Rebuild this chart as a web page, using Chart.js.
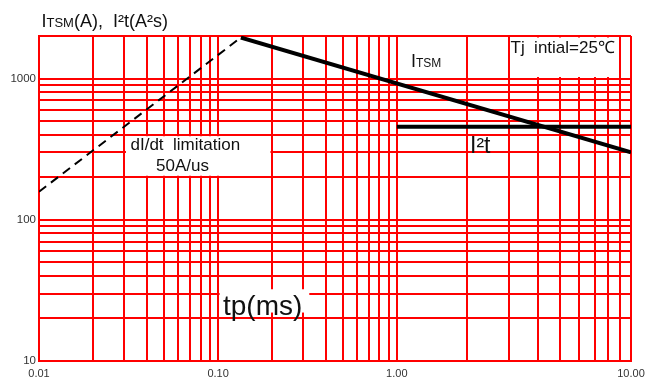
<!DOCTYPE html>
<html>
<head>
<meta charset="utf-8">
<script src="https://cdn.jsdelivr.net/npm/chart.js@4.4.1/dist/chart.umd.min.js"></script>
<style>
  html, body { margin: 0; padding: 0; background: #fff; }
  #wrap { width: 646px; height: 381px; }
</style>
</head>
<body>
<div id="wrap"><canvas id="chart" width="646" height="381"></canvas></div>
<script>
// values, tp in ms
const dIdtTp = [0.01, 0.134];
const dIdtValue = [158, 1950];
const itsmTp = [0.134, 10];
const itsmValue = [1950, 300];
const i2tTp = [1, 10];
const i2tValue = [455, 455];

const xTickValues = [0.01, 0.1, 1, 10];
const xTickLabels = ['0.01', '0.10', '1.00', '10.00'];
const yTickValues = [10, 100, 1000];
const yTickLabels = ['10', '100', '1000'];

// the datasheet draws its last decade wider than the first two
const xDecadeWidths = [179, 178.5, 234];

const FONT = '"Liberation Sans", Arial, sans-serif';
const RED = '#ff0000';

function logGrid(from, to) {
  const out = [];
  for (let d = from; d < to * 0.999; d *= 10) {
    for (let m = 1; m < 10; m++) out.push(+(m * d).toPrecision(6));
  }
  out.push(to);
  return out;
}
const xGrid = logGrid(0.01, 10);
const yGrid = logGrid(10, 1000).concat([2000]);

function labelFor(values, labels, v) {
  const i = values.findIndex(t => Math.abs(t - v) / t < 1e-6);
  return i < 0 ? '' : labels[i];
}

// log scale with per-decade widths
class DatasheetLogScale extends Chart.LogarithmicScale {
  static id = 'datasheetlog';
  _decimal(value) {
    const total = xDecadeWidths.reduce((a, b) => a + b, 0);
    const l = Math.log10(value) - Math.log10(this.min);
    const d = Math.min(Math.max(Math.floor(l), 0), xDecadeWidths.length - 1);
    let acc = 0;
    for (let i = 0; i < d; i++) acc += xDecadeWidths[i];
    return (acc + (l - d) * xDecadeWidths[d]) / total;
  }
  getPixelForValue(value) {
    if (value === undefined || value === 0) value = this.min;
    if (value === null || isNaN(value)) return NaN;
    return this.getPixelForDecimal(this._decimal(value));
  }
  getValueForPixel(pixel) {
    const total = xDecadeWidths.reduce((a, b) => a + b, 0);
    let pos = this.getDecimalForPixel(pixel) * total;
    let d = 0;
    while (d < xDecadeWidths.length - 1 && pos > xDecadeWidths[d]) {
      pos -= xDecadeWidths[d];
      d++;
    }
    return Math.pow(10, Math.log10(this.min) + d + pos / xDecadeWidths[d]);
  }
}
Chart.register(DatasheetLogScale);

// white label backgrounds, in data units
const whiteBoxes = [
  { x0: 0.03, x1: 0.2, y0: 200, y1: 400 },
  { x0: 3, x1: 8.6, y0: 1000, y1: 2000 },
  { x0: 0.1, x1: 0.33, y0: 21.5, y1: 33 }
];

// text runs: [text, font size]
const notes = [
  { x: 41.5, y: 26.5, runs: [['I', 18], ['TSM', 13], ['(A),  I\u00b2t(A\u00b2s)', 18]] },
  { x: 411, y: 66.5, runs: [['I', 18], ['TSM', 12]] },
  { x: 510.5, y: 53, runs: [['Tj  intial=25\u2103', 17]] },
  { x: 130.5, y: 149.5, runs: [['dI/dt  limitation', 17]] },
  { x: 156, y: 171, runs: [['50A/us', 17]] },
  { x: 470, y: 153, runs: [['I\u00b2t', 23]] },
  { x: 223, y: 315, runs: [['tp(ms)', 28]] }
];

const notesPlugin = {
  id: 'notes',
  beforeDatasetsDraw(chart) {
    const { ctx, scales: { x, y } } = chart;
    ctx.save();
    ctx.fillStyle = '#fff';
    whiteBoxes.forEach(b => {
      const l = x.getPixelForValue(b.x0) + 1.5;
      const r = x.getPixelForValue(b.x1) - 1.5;
      const t = y.getPixelForValue(b.y1) + 1.5;
      const bt = y.getPixelForValue(b.y0) - 1.5;
      ctx.fillRect(l, t, r - l, bt - t);
    });
    ctx.restore();
  },
  afterDraw(chart) {
    const ctx = chart.ctx;
    ctx.save();
    ctx.fillStyle = '#111';
    ctx.textBaseline = 'alphabetic';
    ctx.textAlign = 'left';
    notes.forEach(n => {
      let px = n.x;
      n.runs.forEach(([txt, size]) => {
        ctx.font = size + 'px ' + FONT;
        ctx.fillText(txt, px, n.y);
        px += ctx.measureText(txt).width;
      });
    });
    ctx.restore();
  }
};

const toPoints = (xs, ys) => xs.map((t, i) => ({ x: t, y: ys[i] }));

new Chart(document.getElementById('chart'), {
  type: 'line',
  data: {
    datasets: [
      {
        label: 'dI/dt limitation',
        data: toPoints(dIdtTp, dIdtValue),
        borderColor: '#000',
        borderWidth: 2,
        borderDash: [9, 6],
        pointRadius: 0
      },
      {
        label: 'ITSM',
        data: toPoints(itsmTp, itsmValue),
        borderColor: '#000',
        borderWidth: 4,
        pointRadius: 0
      },
      {
        label: 'I²t',
        data: toPoints(i2tTp, i2tValue),
        borderColor: '#000',
        borderWidth: 4,
        pointRadius: 0
      }
    ]
  },
  options: {
    responsive: false,
    animation: false,
    devicePixelRatio: 1,
    layout: { padding: { top: 36, right: 15, left: 0, bottom: 0 } },
    plugins: {
      legend: { display: false },
      tooltip: { enabled: false }
    },
    scales: {
      x: {
        type: 'datasheetlog',
        min: 0.01,
        max: 10,
        afterBuildTicks: s => { s.ticks = xGrid.map(v => ({ value: v })); },
        afterFit: s => { s.height = 20; s.paddingLeft = 0; s.paddingRight = 0; },
        grid: { color: RED, lineWidth: 2, drawTicks: false },
        border: { color: RED, width: 2 },
        ticks: {
          autoSkip: false,
          maxRotation: 0,
          padding: 6,
          color: '#333',
          font: { family: FONT, size: 11 },
          callback: v => labelFor(xTickValues, xTickLabels, v)
        }
      },
      y: {
        type: 'logarithmic',
        min: 10,
        max: 2000,
        afterBuildTicks: s => { s.ticks = yGrid.map(v => ({ value: v })); },
        afterFit: s => { s.width = 39; s.paddingTop = 0; s.paddingBottom = 0; },
        grid: { color: RED, lineWidth: 2, drawTicks: false },
        border: { color: RED, width: 2 },
        ticks: {
          autoSkip: false,
          padding: 3,
          color: '#333',
          font: { family: FONT, size: 11.5 },
          callback: v => labelFor(yTickValues, yTickLabels, v)
        }
      }
    }
  },
  plugins: [notesPlugin]
});
</script>
</body>
</html>
